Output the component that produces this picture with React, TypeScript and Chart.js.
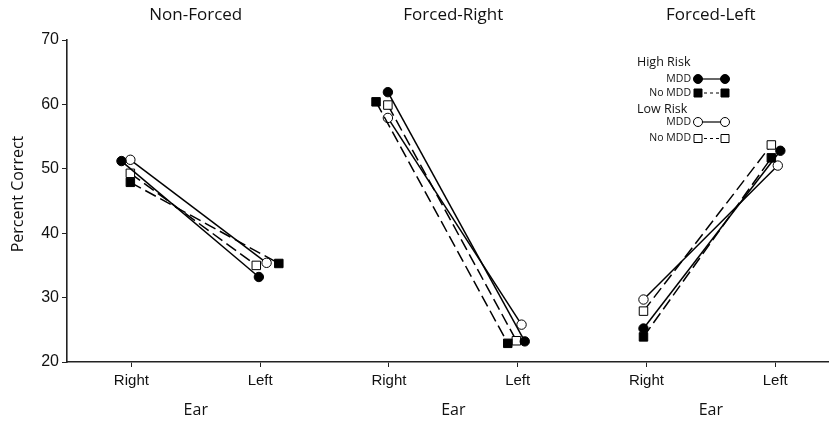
import React, { useEffect, useRef } from 'react';
import { Chart, registerables } from 'chart.js';
Chart.register(...registerables);

const panels = ['Non-Forced', 'Forced-Right', 'Forced-Left'];
const ears = ['Right', 'Left'];
const yTicks = [20, 30, 40, 50, 60, 70];
const xTicks = [0, 1, 2, 3, 4, 5];

// values per ear position: [NF-Right, NF-Left, FR-Right, FR-Left, FL-Right, FL-Left]
const hrMdd = [51.2, 33.2, 61.9, 23.2, 25.2, 52.8];
const hrNoMdd = [47.9, 35.3, 60.4, 22.9, 23.9, 51.7];
const lrMdd = [51.4, 35.4, 57.9, 25.8, 29.7, 50.5];
const lrNoMdd = [49.3, 35.0, 59.9, 23.3, 27.9, 53.7];

// small horizontal jitter (category units) as in the figure
const hrMddJit = [-0.077, -0.01, -0.008, 0.055, -0.023, 0.04];
const hrNoMddJit = [-0.008, 0.145, -0.1, -0.077, -0.023, -0.03];
const lrMddJit = [-0.008, 0.05, -0.008, 0.03, -0.023, 0.02];
const lrNoMddJit = [-0.008, -0.03, -0.008, -0.01, -0.023, -0.03];

const TXT = "'Open Sans', 'DejaVu Sans', sans-serif";
const NUM = "'Liberation Sans', Arial, sans-serif";

const series = [
  { vals: hrNoMdd, jit: hrNoMddJit, style: 'rect', fill: '#000', dash: [12, 5] },
  { vals: hrMdd, jit: hrMddJit, style: 'circle', fill: '#000', dash: [] },
  { vals: lrNoMdd, jit: lrNoMddJit, style: 'rect', fill: '#fff', dash: [12, 5] },
  { vals: lrMdd, jit: lrMddJit, style: 'circle', fill: '#fff', dash: [] },
];

function marker(ctx: CanvasRenderingContext2D, kind: string, fill: string, x: number, y: number, s: number) {
  ctx.save();
  ctx.setLineDash([]);
  ctx.fillStyle = fill;
  ctx.strokeStyle = '#000';
  ctx.lineWidth = 1;
  ctx.beginPath();
  if (kind === 'circle') ctx.arc(x, y, s / 2, 0, Math.PI * 2);
  else ctx.rect(x - s / 2, y - s / 2, s, s);
  ctx.fill();
  ctx.stroke();
  ctx.restore();
}

const textPlugin = {
  id: 'texts',
  afterDraw(chart: any) {
    const ctx: CanvasRenderingContext2D = chart.ctx;
    const xs = chart.scales.x;
    ctx.save();
    ctx.fillStyle = '#111';
    ctx.textAlign = 'center';
    ctx.textBaseline = 'middle';
    ctx.font = `17px ${TXT}`;
    panels.forEach((p, i) => {
      ctx.fillText(p, xs.getPixelForValue(2 * i + 0.5), 15);
    });
    ctx.font = `16px ${TXT}`;
    panels.forEach((_p, i) => {
      ctx.fillText('Ear', xs.getPixelForValue(2 * i + 0.5), 410);
    });
    ctx.save();
    ctx.translate(18, 194);
    ctx.rotate(-Math.PI / 2);
    ctx.font = `16px ${TXT}`;
    ctx.fillText('Percent Correct', 0, 0);
    ctx.restore();

    // legend
    ctx.textAlign = 'left';
    ctx.font = `12.5px ${TXT}`;
    ctx.fillText('High Risk', 637, 62);
    ctx.fillText('Low Risk', 637, 109);
    ctx.textAlign = 'right';
    ctx.font = `10.5px ${TXT}`;
    const rows = [
      { label: 'MDD', y: 79, kind: 'circle', fill: '#000', dash: [] as number[] },
      { label: 'No MDD', y: 93, kind: 'rect', fill: '#000', dash: [3, 3] },
      { label: 'MDD', y: 122, kind: 'circle', fill: '#fff', dash: [] as number[] },
      { label: 'No MDD', y: 138.5, kind: 'rect', fill: '#fff', dash: [3, 3] },
    ];
    rows.forEach((r) => {
      ctx.fillText(r.label, 691, r.y);
      ctx.save();
      ctx.strokeStyle = '#000';
      ctx.lineWidth = 1.2;
      ctx.setLineDash(r.dash);
      ctx.beginPath();
      ctx.moveTo(698, r.y);
      ctx.lineTo(725, r.y);
      ctx.stroke();
      ctx.restore();
      marker(ctx, r.kind, r.fill, 698, r.y, r.kind === 'circle' ? 9 : 8);
      marker(ctx, r.kind, r.fill, 725, r.y, r.kind === 'circle' ? 9 : 8);
    });
    ctx.restore();
  },
};

export default function App() {
  const ref = useRef<HTMLCanvasElement>(null);
  useEffect(() => {
    document.body.style.margin = '0';
    const datasets: any[] = [];
    series.forEach((s) => {
      for (let p = 0; p < 3; p++) {
        const i = 2 * p;
        datasets.push({
          data: [
            { x: i + s.jit[i], y: s.vals[i] },
            { x: i + 1 + s.jit[i + 1], y: s.vals[i + 1] },
          ],
          borderColor: '#000',
          borderWidth: 1.5,
          borderDash: s.dash,
          pointStyle: s.style,
          pointRadius: s.style === 'rect' ? 6.0 : 4.7,
          pointBackgroundColor: s.fill,
          pointBorderColor: '#000',
          pointBorderWidth: 1,
          showLine: true,
          fill: false,
          tension: 0,
        });
      }
    });
    const chart = new Chart(ref.current!, {
      type: 'scatter',
      data: { datasets },
      options: {
        animation: false,
        responsive: false,
        layout: { padding: { top: 40, left: 0, right: 0, bottom: 0 } },
        plugins: { legend: { display: false }, tooltip: { enabled: false } },
        scales: {
          x: {
            type: 'linear',
            min: -0.5,
            max: 5.41,
            afterBuildTicks: (sc: any) => {
              sc.ticks = xTicks.map((v) => ({ value: v }));
            },
            afterFit: (sc: any) => {
              sc.height = 60;
            },
            ticks: {
              autoSkip: false,
              maxRotation: 0,
              padding: 5,
              color: '#111',
              font: { family: NUM, size: 15 },
              callback: (v: any) => ears[Number(v) % 2],
            },
            grid: { drawOnChartArea: false, drawTicks: true, tickLength: 5, color: '#222', lineWidth: 1 },
            border: { display: true, color: '#222', width: 1.6 },
          },
          y: {
            min: 20,
            max: 70,
            afterBuildTicks: (sc: any) => {
              sc.ticks = yTicks.map((v) => ({ value: v }));
            },
            afterFit: (sc: any) => {
              sc.width = 67;
            },
            ticks: {
              padding: 3,
              color: '#111',
              font: { family: NUM, size: 16 },
            },
            grid: { drawOnChartArea: false, drawTicks: true, tickLength: 5, color: '#222', lineWidth: 1 },
            border: { display: true, color: '#222', width: 1.6 },
          },
        },
      },
      plugins: [textPlugin],
    });
    return () => chart.destroy();
  }, []);
  return <canvas ref={ref} width={835} height={422} />;
}
